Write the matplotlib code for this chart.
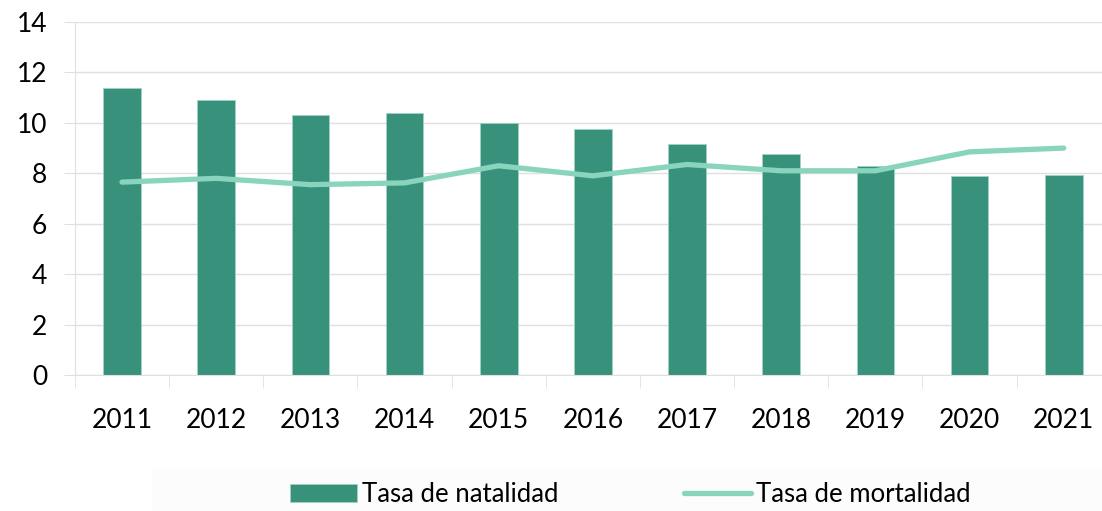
import matplotlib
matplotlib.use("Agg")
import matplotlib.pyplot as plt
import numpy as np
from matplotlib.patches import Rectangle

plt.rcParams['font.family'] = ['Lato', 'DejaVu Sans']

years = ['2011', '2012', '2013', '2014', '2015', '2016', '2017', '2018', '2019', '2020', '2021']
natalidad = [11.4, 10.9, 10.3, 10.4, 10.0, 9.75, 9.15, 8.75, 8.3, 7.9, 7.95]
mortalidad = [7.65, 7.8, 7.55, 7.62, 8.3, 7.9, 8.35, 8.1, 8.1, 8.85, 9.0]

bar_color = '#38917A'
line_color = '#88D4BD'
grid_color = '#E0E0E0'

fig = plt.figure(figsize=(11.02, 5.11), dpi=100)
# right edge of the plot runs past the image (cropped like the original)
ax = fig.add_axes([0.068, 0.266, 0.940, 0.691])

# faint legend background band
fig.patches.append(Rectangle((152 / 1102, 0), 1 - 152 / 1102, 42 / 511,
                             transform=fig.transFigure, facecolor='#FCFCFC',
                             edgecolor='none', zorder=0))

x = np.arange(len(years))
bars = ax.bar(x, natalidad, width=0.40, color=bar_color, edgecolor='#9FD3C2',
              linewidth=0.6, label='Tasa de natalidad', zorder=2)
line, = ax.plot(x, mortalidad, color=line_color, linewidth=3.8, solid_capstyle='round',
                label='Tasa de mortalidad', zorder=3)

ax.set_xlim(-0.5, len(years) - 0.5)
ax.set_ylim(0, 14)
ax.set_yticks(np.arange(0, 15, 2))
ax.set_xticks(x)
ax.set_xticklabels(years)
ax.set_xticks(np.arange(-0.5, len(years), 1), minor=True)

ax.grid(axis='y', color=grid_color, linewidth=1, zorder=0)
for s in ['top', 'right']:
    ax.spines[s].set_visible(False)
ax.spines['left'].set_color(grid_color)
ax.spines['bottom'].set_color(grid_color)

ax.tick_params(axis='y', length=8, color=grid_color, labelsize=19, pad=12)
ax.tick_params(axis='x', which='major', length=0, labelsize=19, pad=24)
ax.tick_params(axis='x', which='minor', length=9, color=grid_color)

fig.legend([bars, line], ['Tasa de natalidad', 'Tasa de mortalidad'],
           loc='center', bbox_to_anchor=(0.572, 0.032), ncol=2, frameon=False,
           fontsize=18.5, handlelength=2.6, handletextpad=0.2, columnspacing=4.9)

fig.savefig('out.png', dpi=100)
